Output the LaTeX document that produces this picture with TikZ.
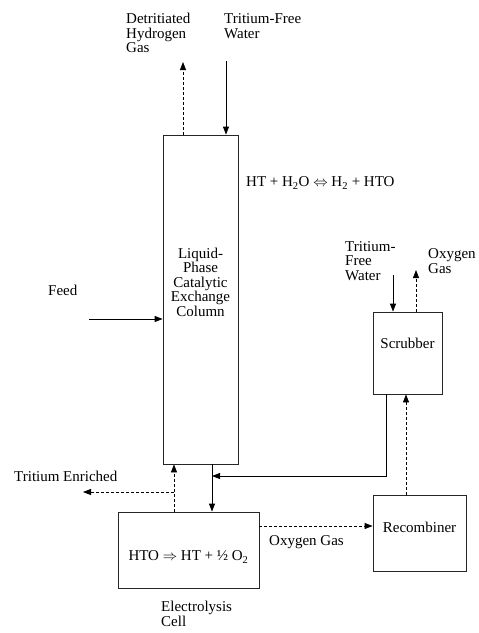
\documentclass[tikz,border=0pt]{standalone}
\usepackage{fontspec}
\setmainfont{Liberation Serif}
\usetikzlibrary{arrows.meta,positioning,calc}

\begin{document}
\begin{tikzpicture}[x=1pt, y=-1pt,
  >=Triangle, font=\fontsize{15}{14.5}\selectfont,
  unit/.style={draw=black!85, line width=0.8pt, inner sep=0pt},
  txt/.style={inner sep=0pt, align=left, anchor=west},
  flow/.style={-{Triangle[length=8pt,width=6pt]}, line width=0.8pt, draw=black},
  gasflow/.style={flow, dash pattern=on 3pt off 2pt},
]
\useasboundingbox (0,0) rectangle (479,633);

% ============ EXCHANGE COLUMN ============
\node[unit, minimum width=75pt, minimum height=329pt] (column) at (200.5,299.5) {};
\node[inner sep=0pt, align=center] (coltxt) at (200.5,282)
  {Liquid-\\Phase\\Catalytic\\Exchange\\Column};

\node[txt] (dhlbl) at (126,33) {Detritiated\\Hydrogen\\Gas};
\node[txt] (tfwlbl) at (224,26) {Tritium-Free\\Water};
\node[txt] (eqn) at (246,183) {HT + H\textsubscript{2}O $\Leftrightarrow$ H\textsubscript{2} + HTO};
\node[txt] (feedlbl) at (48,290) {Feed};

\coordinate (dhg) at (183,62);
\coordinate (tfw) at (226,61);
\coordinate (feed) at (89,319);
\draw[gasflow] (column.north -| dhg) -- (dhg);
\draw[flow] (tfw) -- (column.north -| tfw);
\draw[flow] (feed) -- (feed -| column.west);

% ============ SCRUBBER ============
\node[unit, minimum width=69pt, minimum height=82pt] (scrub) at (407.5,353) {};
\node[inner sep=0pt] (scrubtxt) at (407.5,343) {Scrubber};
\node[txt] (swlbl) at (345,261) {Tritium-\\Free\\Water};
\node[txt] (oglbl) at (428,261) {Oxygen\\Gas};

\coordinate (swin) at (393,275);
\coordinate (ogout) at (416,270);
\draw[flow] (swin) -- (swin |- scrub.north);
\draw[gasflow] (ogout |- scrub.north) -- (ogout);

% ============ ELECTROLYSIS CELL ============
\node[unit, minimum width=141pt, minimum height=76pt] (cell) at (188.5,550) {};
\node[inner sep=0pt] (celleq) at (188.5,557) {HTO $\Rightarrow$ HT + ½ O\textsubscript{2}};
\node[txt] (celllbl) at (161,614) {Electrolysis\\Cell};
\node[txt] (enrlbl) at (14,476) {Tritium Enriched};

% water return from scrubber joins the column bottom stream
\coordinate (drop) at (212,476);
\coordinate (ret) at (386,476);
\draw[flow] (drop |- column.south) -- (drop |- cell.north);
\draw[flow] (ret |- scrub.south) -- (ret) -- (drop);

\coordinate (enr) at (174,492);
\coordinate (enrout) at (83,492);
\draw[gasflow] (enr |- cell.north) -- (enr |- column.south);
\draw[gasflow] (enr) -- (enrout);

% ============ RECOMBINER ============
\node[unit, minimum width=93pt, minimum height=76pt] (recomb) at (419.5,533) {};
\node[inner sep=0pt] (rectxt) at (419.5,527) {Recombiner};
\node[txt] (o2lbl) at (269,542) {Oxygen Gas};

\coordinate (oxy) at (300,526);
\coordinate (rup) at (406,440);
\draw[gasflow] (cell.east |- oxy) -- (recomb.west |- oxy);
\draw[gasflow] (recomb.north -| rup) -- (scrub.south -| rup);

\end{tikzpicture}
\end{document}
